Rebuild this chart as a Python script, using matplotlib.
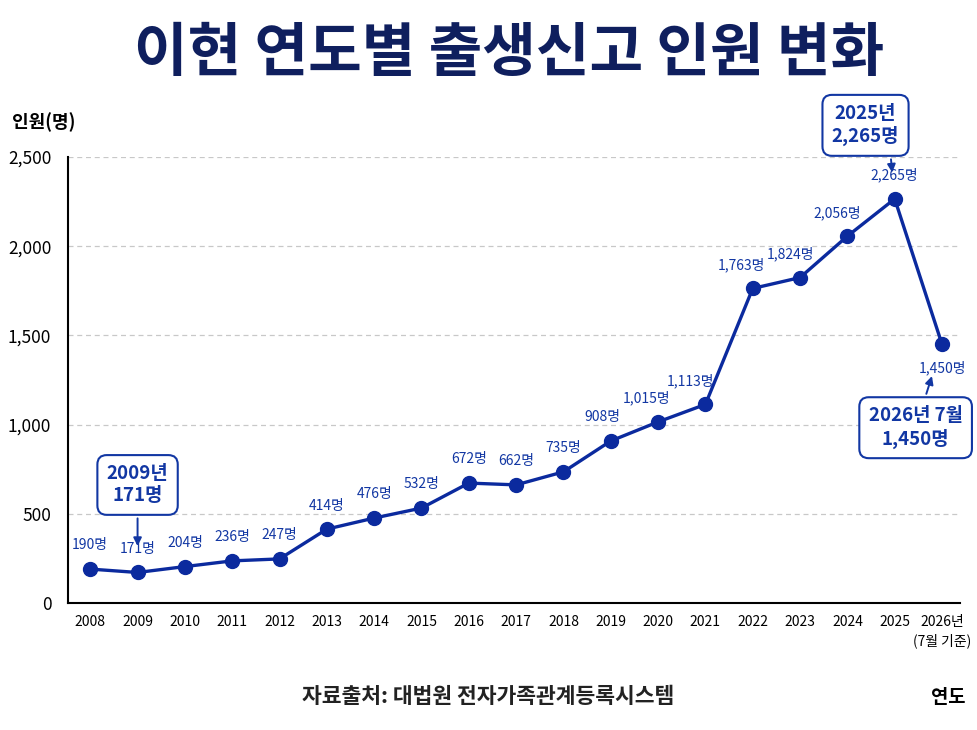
import matplotlib.pyplot as plt

plt.rcParams['font.family'] = ['Noto Sans CJK KR', 'DejaVu Sans']

# data
years = ['2008', '2009', '2010', '2011', '2012', '2013', '2014', '2015', '2016',
         '2017', '2018', '2019', '2020', '2021', '2022', '2023', '2024', '2025',
         '2026년\n(7월 기준)']
births = [190, 171, 204, 236, 247, 414, 476, 532, 672,
          662, 735, 908, 1015, 1113, 1763, 1824, 2056, 2265, 1450]

line_color = '#0b2a9e'
text_blue = '#1237a3'
navy = '#0f1f5e'

fig = plt.figure(figsize=(9.77, 7.30), dpi=100)
ax = fig.add_axes([0.0696, 0.174, 0.913, 0.611])

x = list(range(len(years)))
ax.plot(x, births, color=line_color, lw=2.4, marker='o', ms=10, zorder=3)

# value labels (a few nudged left off the steep segments)
nudge = {11: -6, 12: -8, 13: -11, 14: -8, 15: -7, 16: -7}
for i, v in enumerate(births):
    dy = -17 if i == len(births) - 1 else 17
    ax.annotate(f'{v:,}명', (i, v), xytext=(nudge.get(i, 0), dy), textcoords='offset points',
                ha='center', va='center', fontsize=10, color=text_blue)

box = dict(boxstyle='round,pad=0.5,rounding_size=0.5', fc='white', ec=text_blue, lw=1.5)
arrow = dict(arrowstyle='-|>', color=text_blue, lw=1.4, mutation_scale=12)

ax.annotate('2009년\n171명', (1, births[1]), xytext=(0, 63), textcoords='offset points',
            ha='center', va='center', fontsize=13.5, fontweight='bold', color=text_blue,
            linespacing=1.2, bbox=box, arrowprops=dict(arrow, shrinkB=19))
ax.annotate('2025년\n2,265명', (17, births[17]), xytext=(-21, 53), textcoords='offset points',
            ha='center', va='center', fontsize=13.5, fontweight='bold', color=text_blue,
            linespacing=1.2, bbox=box,
            arrowprops=dict(arrow, shrinkB=19, relpos=(0.86, 0)))
ax.annotate('2026년 7월\n1,450명', (18, births[18]), xytext=(-19, -60), textcoords='offset points',
            ha='center', va='center', fontsize=13.5, fontweight='bold', color=text_blue,
            linespacing=1.2, bbox=box, arrowprops=dict(arrow, shrinkB=24))

ax.set_xlim(-0.47, 18.38)
ax.set_ylim(0, 2500)
ax.set_yticks([0, 500, 1000, 1500, 2000, 2500])
ax.set_yticklabels(['0', '500', '1,000', '1,500', '2,000', '2,500'])
ax.set_xticks(x)
ax.set_xticklabels(years, fontsize=10, linespacing=1.3, va='top')
ax.tick_params(axis='y', length=0, pad=12, labelsize=12.5)
ax.tick_params(axis='x', length=0, pad=9)
for y in [500, 1000, 1500, 2000, 2500]:
    ax.axhline(y, color='#c8c8c8', lw=0.9, ls=(0, (4, 3)), zorder=0)
for s in ['top', 'right']:
    ax.spines[s].set_visible(False)
ax.spines['left'].set_linewidth(1.5)
ax.spines['bottom'].set_linewidth(1.5)

fig.text(0.521, 0.926, '이현 연도별 출생신고 인원 변화', ha='center', va='center',
         fontsize=42, fontweight='black', color=navy)
fig.text(0.012, 0.832, '인원(명)', ha='left', va='center', fontsize=13, fontweight='bold')
fig.text(0.988, 0.044, '연도', ha='right', va='center', fontsize=13.5, fontweight='bold')
fig.text(0.5, 0.046, '자료출처: 대법원 전자가족관계등록시스템', ha='center', va='center',
         fontsize=15.5, fontweight='bold', color='#222222')

fig.savefig('out.png', dpi=100, facecolor='white')
